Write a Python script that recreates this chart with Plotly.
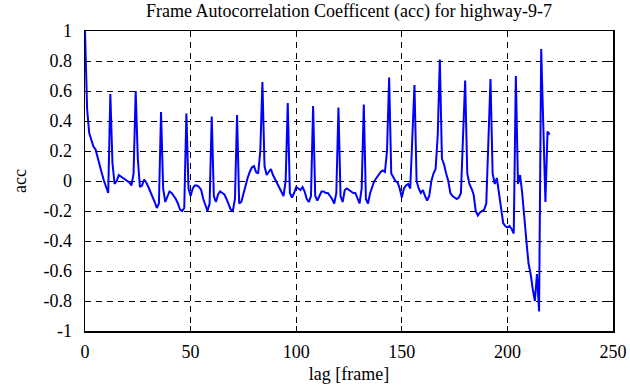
import plotly.graph_objects as go

# lag values (frames)
lags = list(range(0, 221))

# autocorrelation coefficient, one per lag
acc = [
    1.00, 0.48, 0.32, 0.27, 0.23, 0.21, 0.15, 0.09, 0.05, 0.00, -0.04, -0.08,    # 0-11
    0.58, 0.12, -0.02, 0.00, 0.04, 0.03, 0.02, 0.01, 0.00, -0.01, -0.03, 0.05,   # 12-23
    0.60, 0.15, -0.04, -0.03, 0.01, -0.01, -0.04, -0.07, -0.11, -0.14, -0.18, -0.15,  # 24-35
    0.46, -0.05, -0.14, -0.10, -0.07, -0.08, -0.10, -0.12, -0.15, -0.19, -0.20, -0.18,  # 36-47
    0.45, -0.05, -0.10, -0.05, -0.03, -0.03, -0.04, -0.06, -0.12, -0.16, -0.20, -0.15,  # 48-59
    0.43, -0.10, -0.14, -0.09, -0.07, -0.08, -0.09, -0.12, -0.16, -0.19, -0.20, -0.12,  # 60-71
    0.44, -0.15, -0.14, -0.08, -0.02, 0.02, 0.06, 0.09, 0.10, 0.06, 0.05, 0.20,   # 72-83
    0.66, 0.10, 0.04, 0.06, 0.08, 0.04, 0.01, -0.01, -0.05, -0.08, -0.10, 0.00,   # 84-95
    0.52, -0.08, -0.11, -0.08, -0.04, -0.05, -0.06, -0.04, -0.07, -0.12, -0.14, -0.10,  # 96-107
    0.50, -0.10, -0.13, -0.10, -0.07, -0.07, -0.08, -0.08, -0.10, -0.12, -0.15, -0.08,  # 108-119
    0.49, -0.10, -0.14, -0.06, -0.05, -0.06, -0.07, -0.08, -0.08, -0.12, -0.15, -0.05,  # 120-131
    0.51, -0.12, -0.15, -0.08, -0.04, 0.00, 0.02, 0.04, 0.06, 0.07, 0.06, 0.20,   # 132-143
    0.69, 0.05, 0.02, 0.00, -0.01, -0.05, -0.11, -0.05, -0.03, -0.02, -0.05, 0.25,  # 144-155
    0.64, 0.00, -0.05, -0.08, -0.06, -0.10, -0.13, -0.10, 0.00, 0.05, 0.08, 0.30,  # 156-167
    0.81, 0.15, 0.11, 0.05, 0.00, -0.08, -0.10, -0.11, -0.12, -0.11, -0.08, 0.30,  # 168-179
    0.67, 0.05, -0.02, -0.05, -0.09, -0.20, -0.23, -0.21, -0.20, -0.19, -0.15, 0.25,  # 180-191
    0.68, 0.05, -0.02, 0.02, -0.08, -0.15, -0.28, -0.30, -0.31, -0.30, -0.32, -0.35,  # 192-203
    0.70, -0.02, 0.04, -0.08, -0.22, -0.40, -0.55, -0.62, -0.72, -0.80, -0.62, -0.87,  # 204-215
    0.88, 0.33, -0.14, 0.33, 0.31,                                                    # 216-220
]

x_ticks = [0, 50, 100, 150, 200, 250]
y_ticks = [1, 0.8, 0.6, 0.4, 0.2, 0, -0.2, -0.4, -0.6, -0.8, -1]
y_ticktext = ["1", "0.8", "0.6", "0.4", "0.2", "0", "-0.2", "-0.4", "-0.6", "-0.8", "-1"]

SERIF = "Liberation Serif, Times New Roman, serif"

fig = go.Figure(
    go.Scatter(x=lags, y=acc, mode="lines",
               line=dict(color="#0000ff", width=2), showlegend=False,
               hoverinfo="skip")
)

axis_common = dict(
    showline=True, linecolor="black", linewidth=1.5, mirror="ticks",
    ticks="inside", ticklen=5, tickcolor="black", tickwidth=1,
    showgrid=True, gridcolor="black", gridwidth=1, griddash="6px,5px",
    zeroline=False, automargin=False,
    tickfont=dict(family=SERIF, size=18, color="black"),
)

fig.update_layout(
    width=630, height=387,
    margin=dict(l=85, r=17, t=31, b=56),
    paper_bgcolor="white", plot_bgcolor="white",
    font=dict(family=SERIF, size=18, color="black"),
    title=dict(text="Frame Autocorrelation Coefficent (acc) for highway-9-7",
               x=0.554, xanchor="center", y=0.972, yanchor="middle",
               yref="container", font=dict(family=SERIF, size=18)),
)
fig.update_xaxes(range=[0, 250], tickvals=x_ticks, ticklabelstandoff=4,
                 title=dict(text="lag [frame]", standoff=6,
                            font=dict(family=SERIF, size=18)),
                 **axis_common)
fig.update_yaxes(range=[-1, 1], tickvals=y_ticks, ticktext=y_ticktext,
                 ticklabelstandoff=8,
                 title=dict(text="acc", standoff=12,
                            font=dict(family=SERIF, size=18)),
                 **axis_common)

fig.write_html(
    "out.html",
    config={"displayModeBar": False, "staticPlot": True},
    post_script="document.body.style.margin='0';document.body.style.overflow='hidden';",
)
